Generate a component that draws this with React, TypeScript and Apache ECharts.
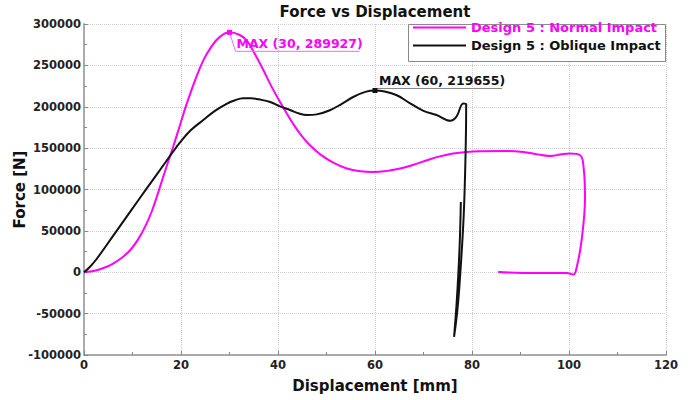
import React, { useEffect, useRef } from "react";
import * as echarts from "echarts";

// ---- data ----
const seriesNames = ["Design 5 : Normal Impact", "Design 5 : Oblique Impact"];

const normalX = [
  0, 1.3, 2.6, 4.3, 6, 7.8, 9.5, 11.2, 12.9, 14, 15, 16.7, 18.4, 19.8, 21.2, 22.9,
  24.6, 26.3, 28, 30, 32, 33.5, 35.2, 37, 38.7, 40.4, 42, 43.5, 45, 46.5, 48.7, 51.4,
  54.2, 57, 59.6, 62.5, 65.2, 68, 70.7, 73.4, 76.1, 78.9, 81.6, 87.1, 90.6, 93,
  96.1, 98.5, 100.2, 102.3, 103, 103.3, 102.6, 101.6, 100.9, 99.5, 95, 90.6, 85.4,
];
const normalY = [
  0, 800, 2400, 5800, 10500, 17500, 26600, 40000, 58800, 74000, 91000, 122000,
  152000, 178000, 204000, 232000, 256000, 273000, 284400, 289927, 287000, 280400,
  264000, 244100, 224000, 206000, 190000, 176000, 164000, 154000, 142500, 132500,
  125300, 122000, 121200, 122500, 125300, 130000, 135300, 140000, 143400, 145400,
  146200, 146600, 145400, 143000, 140500, 142500, 143400, 141400, 127300, 91000,
  38700, 6400, -2800, -800, -800, -800, 400,
];

const obliqueX = [
  0, 1.3, 2.6, 6, 9.5, 12.9, 16.7, 18.4, 19.8, 22, 24.6, 27, 29.4, 31, 32.8, 34.5,
  36, 38.4, 40.4, 42.5, 44.5, 46, 48, 50.7, 53, 55.5, 58, 60, 62, 64.5, 67, 70,
  72.7, 75.5, 76.8, 78.2, 78.8, 78.7, 78.3, 77.6, 77, 76.3, 76.8, 77.2, 77.5, 77.7,
];
const obliqueY = [
  0, 7000, 16000, 44000, 73000, 101000, 132000, 146000, 157000, 171600, 184000,
  195000, 203500, 207500, 210300, 210300, 209000, 205800, 200500, 196000, 191500,
  190000, 190800, 195800, 203000, 211800, 218000, 219655, 218500, 213900, 205000,
  195000, 190000, 183000, 188000, 203900, 203000, 150000, 70000, 0, -45000, -78200,
  -40000, 0, 40000, 85000,
];

const maxX = [30, 60];
const maxY = [289927, 219655];

const xTicks = { min: 0, max: 120, interval: 20 };
const yTicks = { min: -100000, max: 300000, interval: 50000 };

// ---- styles ----
const FONT = "DejaVu Sans";
const COLORS = ["#ff00ff", "#111111"];
const ANN = [
  { dx: 6, dy: 19, len: 124, color: "#ff00ff", line: "#ff66ff" },
  { dx: 3, dy: -2, len: 124, color: "#111111", line: "#888888" },
];

const zip = (xs: number[], ys: number[]) => xs.map((x, i) => [x, ys[i]]);

export default function App() {
  const ref = useRef<HTMLDivElement>(null);
  useEffect(() => {
    if (!ref.current) return;
    const chart = echarts.init(ref.current, null, { renderer: "svg" });
    const axisCommon = {
      type: "value",
      nameLocation: "middle",
      nameMoveOverlap: false,
      nameTextStyle: { fontFamily: FONT, fontWeight: "bold", fontSize: 15, color: "#111" },
      axisLine: { show: true, onZero: false, lineStyle: { color: "#aaaaaa", width: 2 } },
      axisTick: { show: true, inside: true, length: 4, lineStyle: { color: "#888" } },
      minorTick: { show: true, splitNumber: 2, length: 3, lineStyle: { color: "#888" } },
      splitLine: { show: true, lineStyle: { color: "#cfcfcf", type: "dotted", width: 1 } },
      axisLabel: {
        fontFamily: FONT,
        fontWeight: "bold",
        fontSize: 11.5,
        color: "#222",
        formatter: (v: number) => String(v),
      },
    };
    chart.setOption({
      animation: false,
      backgroundColor: "#ffffff",
      textStyle: { fontFamily: FONT },
      title: {
        text: "Force vs Displacement",
        left: 375,
        textAlign: "center",
        top: 4,
        padding: 0,
        textStyle: { fontFamily: FONT, fontWeight: "bold", fontSize: 15, color: "#111" },
      },
      grid: {
        left: 84,
        right: 28,
        top: 24,
        bottom: 45,
        containLabel: false,
        outerBoundsMode: "none",
      },
      legend: {
        orient: "vertical",
        left: 412,
        top: 21,
        padding: 0,
        itemWidth: 53,
        itemHeight: 14,
        itemGap: 5,
        itemStyle: { opacity: 0 },
        lineStyle: { width: 2 },
        textStyle: { fontFamily: FONT, fontWeight: "bold", fontSize: 13 },
        data: [
          { name: seriesNames[0], textStyle: { color: COLORS[0] } },
          { name: seriesNames[1], textStyle: { color: COLORS[1] } },
        ],
      },
      graphic: [
        {
          type: "rect",
          z: 3,
          shape: { x: 408.5, y: 24.5, width: 257, height: 37 },
          style: { fill: "#ffffff", stroke: "#8a8a8a", lineWidth: 1 },
        },
      ],
      xAxis: {
        ...axisCommon,
        name: "Displacement [mm]",
        nameGap: 23,
        min: xTicks.min,
        max: xTicks.max,
        interval: xTicks.interval,
        axisLabel: { ...axisCommon.axisLabel, margin: 4 },
      },
      yAxis: {
        ...axisCommon,
        name: "Force [N]",
        nameGap: 57,
        min: yTicks.min,
        max: yTicks.max,
        interval: yTicks.interval,
        axisLabel: { ...axisCommon.axisLabel, margin: 3 },
      },
      series: [
        {
          name: seriesNames[0],
          type: "line",
          data: zip(normalX, normalY),
          symbol: "none",
          showSymbol: false,
          smooth: 0.4,
          color: COLORS[0],
          lineStyle: { color: COLORS[0], width: 2 },
          z: 2,
        },
        {
          name: seriesNames[1],
          type: "line",
          data: zip(obliqueX, obliqueY),
          symbol: "none",
          showSymbol: false,
          smooth: 0.4,
          color: COLORS[1],
          lineStyle: { color: COLORS[1], width: 2 },
          z: 3,
        },
        {
          name: "annotations",
          type: "custom",
          clip: false,
          z: 5,
          data: zip(maxX, maxY),
          encode: { x: 0, y: 1 },
          renderItem: (params: any, api: any) => {
            const i = params.dataIndex;
            const vx = api.value(0);
            const vy = api.value(1);
            const p = api.coord([vx, vy]);
            const a = ANN[i];
            const x1 = p[0] + a.dx;
            const y1 = p[1] + a.dy;
            return {
              type: "group",
              children: [
                {
                  type: "polyline",
                  shape: { points: [[p[0], p[1]], [x1, y1], [x1 + a.len, y1]] },
                  style: { stroke: a.line, lineWidth: 1, fill: null },
                },
                {
                  type: "rect",
                  shape: { x: p[0] - 2.5, y: p[1] - 2.5, width: 5, height: 5 },
                  style: { fill: a.color },
                },
                {
                  type: "text",
                  x: x1 + 1,
                  y: y1 - 1,
                  style: {
                    text: `MAX (${vx}, ${vy})`,
                    fill: a.color,
                    fontFamily: FONT,
                    fontWeight: "bold",
                    fontSize: 12.5,
                    align: "left",
                    verticalAlign: "bottom",
                  },
                },
              ],
            };
          },
        },
      ],
    });
    return () => chart.dispose();
  }, []);
  return (
    <div
      ref={ref}
      style={{ position: "fixed", left: 0, top: 0, width: 694, height: 400 }}
    />
  );
}
